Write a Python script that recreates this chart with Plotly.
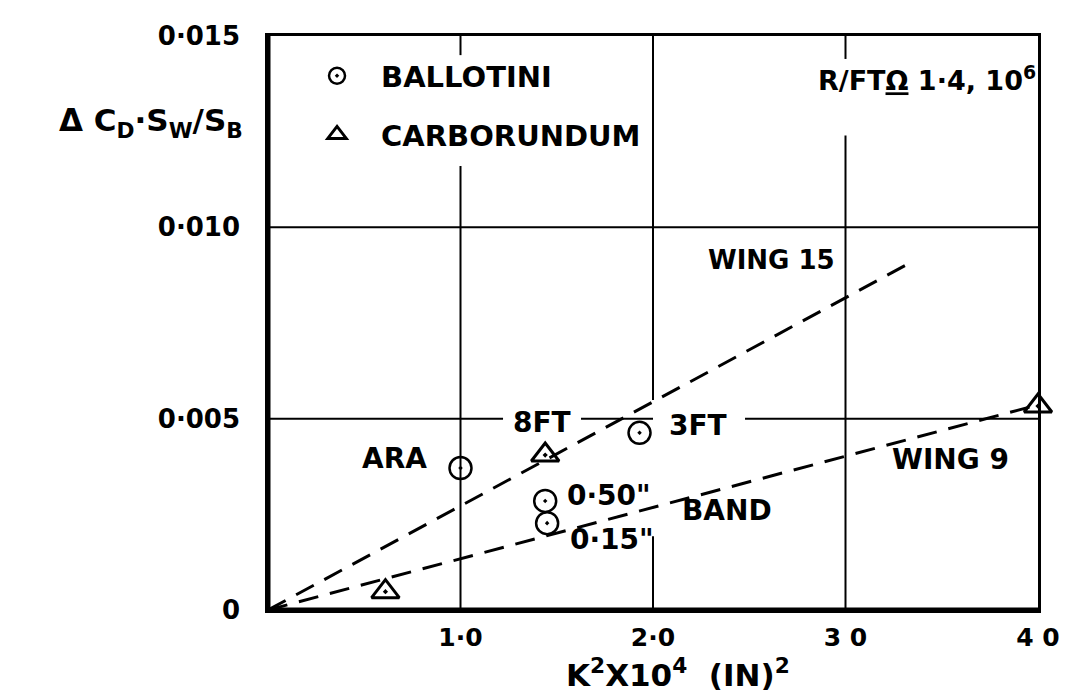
import plotly.graph_objects as go

# points
ballotini_x = [1.0, 1.93, 1.44, 1.45]
ballotini_y = [0.00371, 0.00463, 0.00285, 0.00227]
carbo_x = [0.61, 1.44, 4.0]
carbo_y = [0.00048, 0.00405, 0.00533]

# fitted lines
wing15_x = [0.0, 3.335]
wing15_y = [0.0, 0.00907]
wing9_x = [0.0, 4.0]
wing9_y = [0.0, 0.00536]

x_ticks = [1, 2, 3, 4]
x_ticktext = ["1·0", "2·0", "3 0", "4 0"]
y_ticks = [0, 0.005, 0.010, 0.015]
y_ticktext = ["0", "0·005", "0·010", "0·015"]

labels = ["ARA", "8FT", "3FT", "0·50\"", "0·15\"", "BAND", "WING 15", "WING 9"]
label_x = [0.655, 1.423, 2.234, 1.771, 1.787, 2.384, 2.613, 3.548]
label_y = [0.00397, 0.00489, 0.00483, 0.0030, 0.00183, 0.00259, 0.00915, 0.00392]

FONT = "DejaVu Sans"
INK = "black"

fig = go.Figure()

for xs, ys in [(wing15_x, wing15_y), (wing9_x, wing9_y)]:
    fig.add_trace(go.Scatter(
        x=xs, y=ys, mode="lines", showlegend=False, hoverinfo="skip",
        line=dict(color=INK, width=3, dash="20px,12px")
    ))

fig.add_trace(go.Scatter(
    x=ballotini_x, y=ballotini_y, mode="markers", name="BALLOTINI",
    legendgroup="b", cliponaxis=False,
    marker=dict(symbol="circle-open-dot", size=22, color=INK, line=dict(width=2.5, color=INK))
))
fig.add_trace(go.Scatter(
    x=carbo_x, y=carbo_y, mode="markers", showlegend=False, cliponaxis=False,
    marker=dict(symbol="triangle-up-open-dot", size=24, color=INK, line=dict(width=3, color=INK))
))
# legend-only entry (the legend triangle has no centre dot)
fig.add_trace(go.Scatter(
    x=[None], y=[None], mode="markers", name="CARBORUNDUM", legendgroup="c",
    marker=dict(symbol="triangle-up-open", size=20, color=INK, line=dict(width=3, color=INK))
))

# grid lines, broken where the lettering sits
grid_v = [(1, 0, 0.01160), (1, 0.01450, 0.015),
          (2, 0, 0.00193), (2, 0.00549, 0.015),
          (3, 0, 0.01240), (3, 0.01440, 0.015)]
grid_h = [(0.005, 0, 1.221), (0.005, 1.626, 2.0), (0.005, 2.478, 4.0),
          (0.010, 0, 4.0)]
for gx, a, b in grid_v:
    fig.add_shape(type="line", x0=gx, x1=gx, y0=a, y1=b, xref="x", yref="y",
                  line=dict(color=INK, width=2), layer="below")
for gy, a, b in grid_h:
    fig.add_shape(type="line", x0=a, x1=b, y0=gy, y1=gy, xref="x", yref="y",
                  line=dict(color=INK, width=2), layer="below")
# heavy left and bottom axes
fig.add_shape(type="line", x0=0, x1=0, y0=0, y1=1, xref="paper", yref="paper",
              line=dict(color=INK, width=5))
fig.add_shape(type="line", x0=0, x1=1, y0=0, y1=0, xref="paper", yref="paper",
              line=dict(color=INK, width=5))

for t, lx, ly in zip(labels, label_x, label_y):
    size = 26 if t == "WING 15" else 28
    fig.add_annotation(x=lx, y=ly, text="<b>" + t + "</b>", showarrow=False,
                       font=dict(family=FONT, size=size, color=INK))

fig.add_annotation(x=4.0, y=0.01388, xanchor="right", yanchor="middle",
                   showarrow=False,
                   text="<b>R/FT<u>Ω</u> 1·4, 10<sup>6</sup></b>",
                   font=dict(family=FONT, size=27, color=INK))

fig.add_annotation(x=-0.030, y=0.850, xref="paper", yref="paper",
                   xanchor="right", yanchor="middle", showarrow=False,
                   text="<b>Δ C<sub>D</sub>·S<sub>W</sub>/S<sub>B</sub></b>",
                   font=dict(family=FONT, size=31, color=INK))

# x-axis title, placed as an annotation so it is not pushed off the page
fig.add_annotation(x=0.533, y=-0.110, xref="paper", yref="paper",
                   xanchor="center", yanchor="middle", showarrow=False,
                   text="<b>K<sup>2</sup>X10<sup>4</sup>  (IN)<sup>2</sup></b>",
                   font=dict(family=FONT, size=31, color=INK))

fig.update_layout(
    width=1071, height=691,
    margin=dict(l=260, r=41, t=28, b=89),
    paper_bgcolor="white", plot_bgcolor="white",
    font=dict(family=FONT, color=INK),
    showlegend=True,
    legend=dict(x=0.0325, y=0.975, xanchor="left", yanchor="top",
                bgcolor="rgba(0,0,0,0)",
                font=dict(size=29, family=FONT, weight="bold"),
                tracegroupgap=18, itemwidth=78),
    xaxis=dict(range=[0, 4], showgrid=False, zeroline=False,
               showline=True, linecolor=INK, linewidth=2.5, mirror=True,
               tickvals=x_ticks, ticktext=x_ticktext, ticks="",
               tickfont=dict(size=25, family=FONT, weight="bold"),
               ticklabelstandoff=3),
    yaxis=dict(range=[0, 0.015], showgrid=False, zeroline=False,
               showline=True, linecolor=INK, linewidth=2.5, mirror=True,
               tickvals=y_ticks, ticktext=y_ticktext, ticks="",
               tickfont=dict(size=26, family=FONT, weight="bold"),
               ticklabelstandoff=20),
)

fig.write_html("out.html")
